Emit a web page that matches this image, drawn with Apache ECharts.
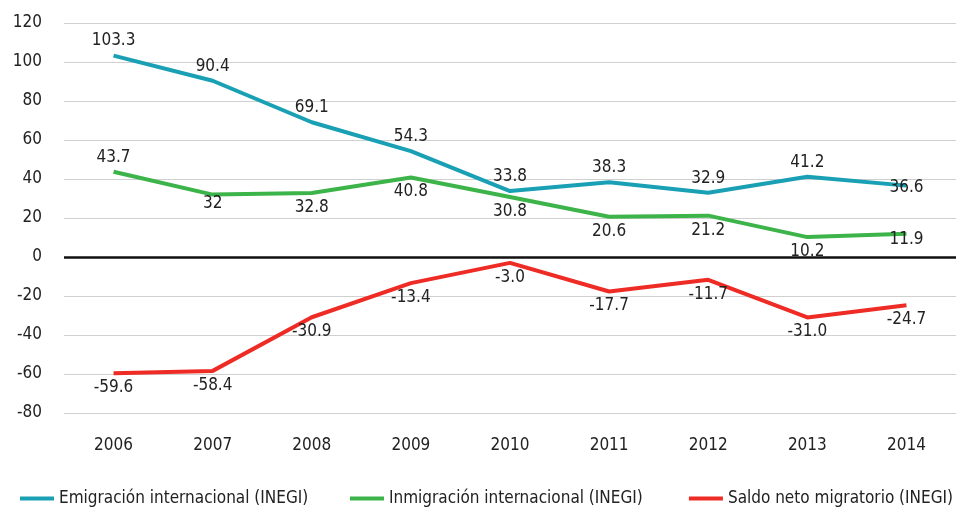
<!DOCTYPE html>
<html><head><meta charset="utf-8">
<script src="https://cdn.jsdelivr.net/npm/echarts@6/dist/echarts.min.js"></script>
<style>html,body{margin:0;padding:0;background:#fff}#c{width:956px;height:516px}</style>
</head><body><div id="c"></div>
<script>
const years = ['2006','2007','2008','2009','2010','2011','2012','2013','2014'];
const emigracion = [103.3, 90.4, 69.1, 54.3, 33.8, 38.3, 32.9, 41.2, 36.6];
const inmigracion = [43.7, 32, 32.8, 40.8, 30.8, 20.6, 21.2, 10.2, 11.9];
const saldo = [-59.6, -58.4, -30.9, -13.4, -3.0, -17.7, -11.7, -31.0, -24.7];
const emiLabels = ['103.3','90.4','69.1','54.3','33.8','38.3','32.9','41.2','36.6'];
const inmLabels = ['43.7','32','32.8','40.8','30.8','20.6','21.2','10.2','11.9'];
const salLabels = ['-59.6','-58.4','-30.9','-13.4','-3.0','-17.7','-11.7','-31.0','-24.7'];
const names = ['Emigración internacional (INEGI)','Inmigración internacional (INEGI)','Saldo neto migratorio (INEGI)'];

const FONT = '"Liberation Sans Narrow", "DejaVu Sans Condensed", "Noto Sans", sans-serif';
const emiPos = ['top','top','top','top','top','top','top','top','inside'];
const inmPos = ['top','bottom','bottom','bottom','bottom','bottom','bottom','bottom','inside'];
const emiOff = [[0,0],[0,0],[0,0],[0,0],[0,0],[0,0],[0,0],[0,0],[0,2]];
const inmOff = [[0,0],[0,-6],[0,0],[0,0],[0,0],[0,0],[0,0],[0,0],[0,6]];
function items(vals, labels, pos, defPos, off){
  return vals.map((v,i)=>({value:v, label:{show:true, position: pos ? pos[i] : defPos,
    offset: off ? off[i] : [0,0], formatter: labels[i]}}));
}
const lbl = {show:true, color:'#222', fontSize:17, fontFamily:FONT, distance:6};
const legendPos = [{left:20}, {left:350}, {right:3}];
const chart = echarts.init(document.getElementById('c'));
chart.setOption({
  animation:false,
  textStyle:{fontFamily:FONT},
  grid:{left:64, right:0, top:23, bottom:103},
  legend:names.map((n,i)=>Object.assign({bottom:9, itemWidth:34, itemHeight:4, itemGap:4, padding:0,
    textStyle:{fontSize:17, color:'#222', fontFamily:FONT},
    data:[{name:n, icon:'rect'}]}, legendPos[i])),
  xAxis:{type:'category', data:years, axisLine:{show:false}, axisTick:{show:false},
    axisLabel:{fontSize:17, color:'#222', margin:24, fontFamily:FONT}},
  yAxis:{type:'value', min:-80, max:120, interval:20, axisLine:{show:false}, axisTick:{show:false},
    axisLabel:{fontSize:17, color:'#222', margin:22, fontFamily:FONT},
    splitLine:{lineStyle:{color:'#d0d0d0', width:1}}},
  series:[
    {name:names[0], type:'line', data:items(emigracion, emiLabels, emiPos, null, emiOff), color:'#1AA0B4',
     lineStyle:{width:4}, symbol:'circle', symbolSize:0.1, showSymbol:true, label:lbl,
     markLine:{silent:true, symbol:'none', label:{show:false}, lineStyle:{color:'#111', width:2.5, type:'solid'}, data:[{yAxis:0}]}},
    {name:names[1], type:'line', data:items(inmigracion, inmLabels, inmPos, null, inmOff), color:'#3CB44A',
     lineStyle:{width:4}, symbol:'circle', symbolSize:0.1, showSymbol:true, label:lbl},
    {name:names[2], type:'line', data:items(saldo, salLabels, null, 'bottom'), color:'#EE2B24',
     lineStyle:{width:4}, symbol:'circle', symbolSize:0.1, showSymbol:true, label:lbl}
  ]
});
</script></body></html>
